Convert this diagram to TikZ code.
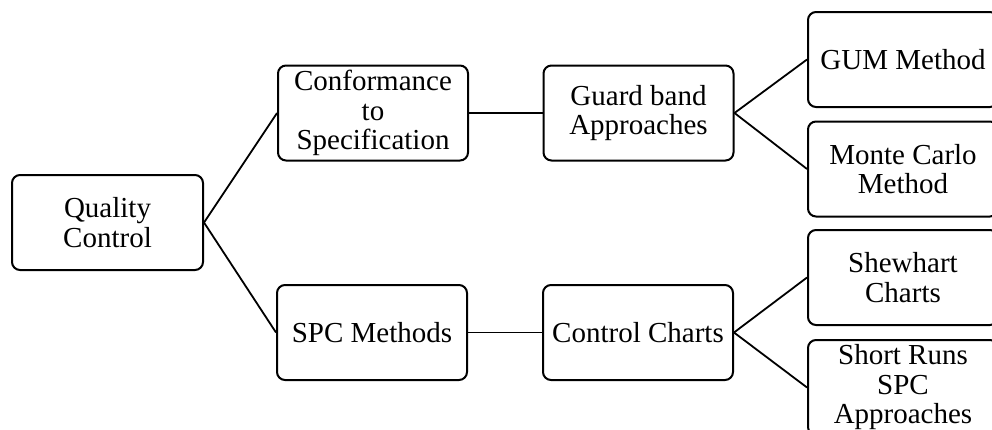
\documentclass[tikz,border=0pt]{standalone}
\usepackage{fontspec}
\setmainfont{Liberation Serif}
\begin{document}
\begin{tikzpicture}[x=1pt,y=-1pt,
  box/.style={draw=black, line width=2pt, rounded corners=8pt, fill=white,
    inner sep=0pt, align=center, minimum height=95pt, minimum width=190pt,
    font=\fontsize{29}{29.5}\selectfont},
  link/.style={draw=black, line width=1.8pt}]
\useasboundingbox (0,0) rectangle (992,429);
\clip (0,0) rectangle (992,429);
\node[box, minimum width=191pt] (qc) at (107.5,222.5) {Quality\\Control};
\node[box] (conf) at (373,113) {Conformance\\to\\Specification};
\node[box] (spc) at (372,332.5) {SPC Methods};
\node[box] (guard) at (638.5,113) {Guard band\\Approaches};
\node[box] (cc) at (638,332.5) {Control Charts};
\node[box] (gum) at (903,59.5) {GUM Method};
\node[box] (mc) at (903,169) {Monte Carlo\\Method};
\node[box] (shew) at (903,277.5) {Shewhart\\Charts};
\node[box] (short) at (903,387.5) {Short Runs\\SPC\\Approaches};
\draw[link] (qc.east) -- (conf.west);
\draw[link] (qc.east) -- (spc.west);
\draw[link] (conf.east) -- (guard.west);
\draw[link] (spc.east) -- (cc.west);
\draw[link] (guard.east) -- (gum.west);
\draw[link] (guard.east) -- (mc.west);
\draw[link] (cc.east) -- (shew.west);
\draw[link] (cc.east) -- (short.west);
\end{tikzpicture}
\end{document}
